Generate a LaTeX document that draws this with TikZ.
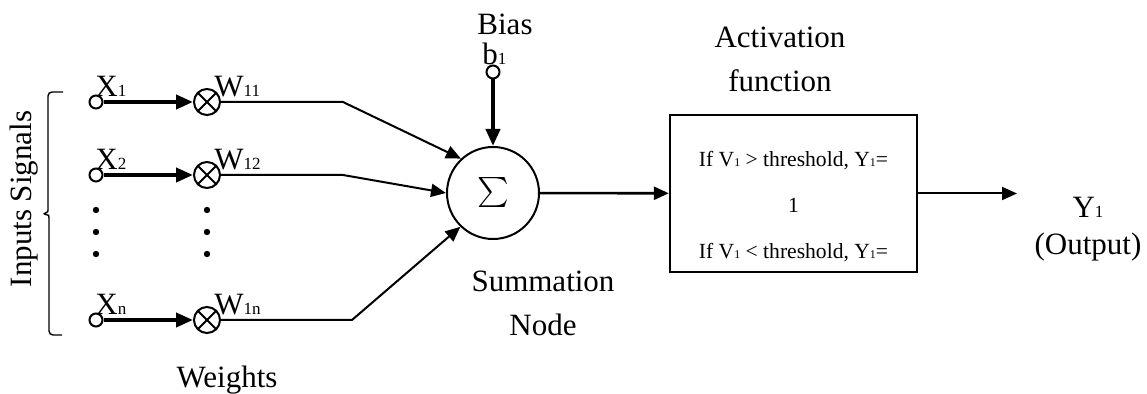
\documentclass[tikz,border=0pt]{standalone}
\usepackage{fontspec}
\setmainfont{Liberation Serif}
\usetikzlibrary{arrows.meta,positioning}
\newcommand{\nsub}[1]{\scalebox{0.55}{#1}}

\begin{document}
\begin{tikzpicture}[x=0.5pt, y=-0.5pt,
  lab/.style={font=\fontsize{15.5}{22}\selectfont, inner sep=0pt},
  boxtxt/.style={font=\fontsize{10.8}{23}\selectfont, align=center, inner sep=0pt},
  inp/.style={circle, draw, line width=1pt, fill=white, inner sep=0pt, minimum size=6.5pt},
  mult/.style={circle, draw, line width=1pt, inner sep=0pt, minimum size=13pt,
    path picture={\draw[line width=1pt] (path picture bounding box.north west) -- (path picture bounding box.south east)
      (path picture bounding box.north east) -- (path picture bounding box.south west);}},
  sumnode/.style={circle, draw, line width=1pt, inner sep=0pt, minimum size=46pt},
  actbox/.style={draw, line width=1.2pt, minimum width=123.5pt, minimum height=78.5pt, inner sep=0pt},
  wire/.style={line width=1pt},
  arr/.style={-{Triangle[length=7.5pt, width=6.5pt]}, line width=1pt},
  thickarr/.style={-{Triangle[length=8.5pt, width=7pt]}, line width=2pt},
]
\useasboundingbox (0,0) rectangle (1147,394);
% inputs and weights
\node[inp] (x1) at (96,102) {};
\node[inp] (x2) at (96,175) {};
\node[inp] (xn) at (96,320) {};
\node[mult] (w1) at (207,102) {};
\node[mult] (w2) at (207,175) {};
\node[mult] (wn) at (207,320) {};
\node[lab, anchor=base west] (x1lab) at (95,97) {X\nsub{1}};
\node[lab, anchor=base west] (x2lab) at (95,170) {X\nsub{2}};
\node[lab, anchor=base west] (xnlab) at (95,315) {X\nsub{n}};
\node[lab, anchor=base west] (w1lab) at (214,97) {W\nsub{11}};
\node[lab, anchor=base west] (w2lab) at (214,170) {W\nsub{12}};
\node[lab, anchor=base west] (wnlab) at (214,315) {W\nsub{1n}};
\foreach \x in {96,207}
  \foreach \y in {210,232,254}
    \fill (\x,\y) circle (1.6pt);
% brace
\draw[line width=0.7pt, rounded corners=2pt] (63,92) -| (48,206)
  .. controls (48,212) .. (42,214) .. controls (49,215) .. (49,222) |- (62,335);
\node[lab, rotate=90] (inlab) at (24,199) {Inputs Signals};
\node[lab, anchor=base] (wlab) at (227,388) {Weights};
% summation and bias
\node[sumnode] (sum) at (493,193) {\scalebox{1.5}{$\sum$}};
\node[lab, align=center] (sumlab) at (543,303) {Summation\\Node};
\node[lab, anchor=base] (biaslab) at (505,35) {Bias};
\node[lab, anchor=base west] (blab) at (482,65) {b\nsub{1}};
\node[inp] (bias) at (493,72) {};
\coordinate (k1) at (343,102);
\coordinate (k2) at (343,175);
\coordinate (kn) at (352,320);
\draw[thickarr] (x1) -- (w1);
\draw[thickarr] (x2) -- (w2);
\draw[thickarr] (xn) -- (wn);
\draw[arr] (w1) -- (k1) -- (sum.133);
\draw[arr] (w2) -- (k2) -- (sum.180);
\draw[arr] (wn) -- (kn) -- (sum.226);
\draw[thickarr] (bias) -- (sum);
% activation and output
\node[actbox] (act) at (793.5,193.5) {};
\node[boxtxt] (rule) at ([yshift=-6.75pt]act.center) {If V\nsub{1} > threshold, Y\nsub{1}=\\1\\If V\nsub{1} < threshold, Y\nsub{1}=};
\node[lab, align=center] (actlab) at (780,59) {Activation\\function};
\coordinate (yend) at (1017,193.5);
\draw[arr, line width=1.3pt] (sum) -- (act);
\draw[arr] (act.east) -- (yend);
\node[lab, align=center, font=\fontsize{15.5}{18.5}\selectfont] (out) at (1088,229) {Y\nsub{1}\\(Output)};
\end{tikzpicture}
\end{document}
